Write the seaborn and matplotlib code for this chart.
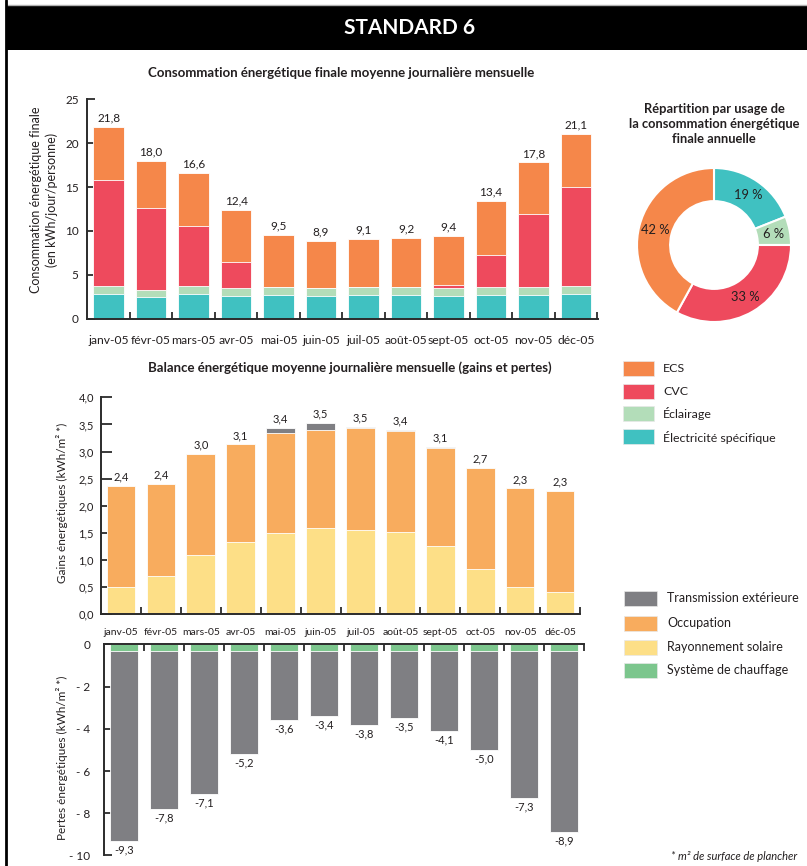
import numpy as np
import matplotlib
matplotlib.use("Agg")
import matplotlib.pyplot as plt
import seaborn as sns
from matplotlib.patches import Rectangle
from matplotlib.lines import Line2D

# ---------------- data ----------------
months = ["janv-05", "févr-05", "mars-05", "avr-05", "mai-05", "juin-05",
          "juil-05", "août-05", "sept-05", "oct-05", "nov-05", "déc-05"]

# Consommation (kWh/jour/personne)
elec_spec = [2.8, 2.5, 2.8, 2.6, 2.7, 2.6, 2.7, 2.7, 2.6, 2.7, 2.7, 2.8]
eclairage = [0.9, 0.8, 0.9, 0.9, 0.9, 0.9, 0.9, 0.9, 0.9, 0.9, 0.9, 0.9]
cvc = [12.1, 9.3, 6.9, 3.0, 0.0, 0.0, 0.0, 0.0, 0.3, 3.7, 8.3, 11.3]
ecs = [6.0, 5.4, 6.0, 5.9, 5.9, 5.4, 5.5, 5.6, 5.6, 6.1, 5.9, 6.1]

# Répartition annuelle (%)
usage_labels = ["Électricité spécifique", "Éclairage", "CVC", "ECS"]
usage_share = [19, 6, 33, 42]

# Gains (kWh/m²)
rayonnement = [0.51, 0.71, 1.09, 1.33, 1.49, 1.60, 1.56, 1.51, 1.25, 0.84, 0.51, 0.42]
occupation = [1.86, 1.69, 1.87, 1.80, 1.86, 1.80, 1.87, 1.87, 1.81, 1.85, 1.81, 1.86]
transmission_gain = [0, 0, 0, 0, 0.09, 0.12, 0.03, 0.02, 0.02, 0, 0, 0]

# Pertes (kWh/m²)
chauffage = [-0.3] * 12
transmission_loss = [-9.0, -7.5, -6.8, -4.9, -3.3, -3.1, -3.5, -3.2, -3.8, -4.7, -7.0, -8.6]

# ---------------- style ----------------
C_ECS = "#F5874A"
C_CVC = "#EE4A5D"
C_ECL = "#B3DDB9"
C_ELEC = "#40C1C1"
C_TRANS = "#7F7F83"
C_OCC = "#F8AC5E"
C_SOL = "#FDDF87"
C_CHAUF = "#7CC68D"
SPINE = "#2b2b2b"
TXT = "#231F20"

sns.set_theme(style="white")
plt.rcParams["font.family"] = ["Lato", "DejaVu Sans"]
plt.rcParams["text.color"] = TXT
plt.rcParams["axes.labelcolor"] = TXT
plt.rcParams["xtick.color"] = TXT
plt.rcParams["ytick.color"] = TXT

W, H = 807, 866
fig = plt.figure(figsize=(W / 100, H / 100), dpi=100)


def add_ax(l, t, r, b):
    return fig.add_axes([l / W, 1 - b / H, (r - l) / W, (b - t) / H])


def fmt(v):
    return f"{v:.1f}".replace(".", ",")


bar_kw = dict(saturation=1, width=0.72, edgecolor="white", linewidth=0.6)

# ---------------- header ----------------
fig.add_artist(Rectangle((6 / W, 1 - 50 / H), 1, 45 / H, transform=fig.transFigure,
                         facecolor="black", edgecolor="none"))
fig.add_artist(Line2D([6 / W, 1], [1 - 4.5 / H] * 2, transform=fig.transFigure,
                      color="#b0b0b0", lw=1))
fig.add_artist(Line2D([6.5 / W] * 2, [0, 1], transform=fig.transFigure,
                      color="black", lw=2))
fig.text(410 / W, 1 - 28 / H, "STANDARD 6", color="white", weight="bold",
         size=15, ha="center", va="center")

# ---------------- top chart ----------------
ax1 = add_ax(87, 99.3, 598, 318.7)
e = np.array(elec_spec)
l = e + np.array(eclairage)
c = l + np.array(cvc)
t = c + np.array(ecs)
for vals, col in [(t, C_ECS), (c, C_CVC), (l, C_ECL), (e, C_ELEC)]:
    sns.barplot(x=months, y=vals, color=col, ax=ax1, **bar_kw)
ax1.set_xlim(-0.51, 11.52)
ax1.set_ylim(0, 25)
ax1.set_yticks(range(0, 26, 5))
ax1.set_xticks(range(12))
ax1.set_xticklabels(months)
ax1.set_xticks(np.arange(0.5, 11.6, 1), minor=True)
ax1.tick_params(axis="x", which="major", length=0, pad=12, labelsize=8.7)
ax1.tick_params(axis="x", which="minor", length=5, direction="in", width=1.3, color=SPINE, bottom=True)
ax1.tick_params(axis="y", length=6, direction="in", width=1.3, color=SPINE, labelsize=8.5, pad=6, left=True)
for s in ["top", "right"]:
    ax1.spines[s].set_visible(False)
for s in ["left", "bottom"]:
    ax1.spines[s].set_color(SPINE)
    ax1.spines[s].set_linewidth(1.4)
for i, v in enumerate(t):
    ax1.annotate(fmt(v), (i, v), xytext=(0, 2.5), textcoords="offset points",
                 ha="center", va="bottom", fontsize=8.5)
ax1.set_xlabel("")
ax1.set_ylabel("Consommation énergétique finale\n(en kWh/jour/personne)", fontsize=9,
               multialignment="center", linespacing=1.3)
ax1.yaxis.set_label_coords((44 - 87) / 511, (318.7 - 200) / 219.4)
ax1.yaxis.label.set_va("center")
fig.text(341 / W, 1 - 73 / H, "Consommation énergétique finale moyenne journalière mensuelle",
         weight="bold", size=9.5, ha="center", va="center")

# ---------------- donut ----------------
axp = add_ax(714 - 82, 245 - 82, 714 + 82, 245 + 82)
wedges, texts, autotexts = axp.pie(
    usage_share, colors=[C_ELEC, C_ECL, C_CVC, C_ECS], startangle=90, counterclock=False,
    radius=1, autopct=lambda p: f"{p:.0f} %", pctdistance=0.79,
    wedgeprops=dict(width=0.43, edgecolor="white", linewidth=1.5),
    textprops=dict(fontsize=9.3, color=TXT))
axp.set_xlim(-82 / 77, 82 / 77)
axp.set_ylim(-82 / 77, 82 / 77)
axp.set_aspect("equal")
axp.axis("off")
fig.text(714 / W, 1 - 124 / H,
         "Répartition par usage de\nla consommation énergétique\nfinale annuelle",
         weight="bold", size=9.3, ha="center", va="center", linespacing=1.3)

# ---------------- legends ----------------
def legend_rows(items, x_box, x_txt, ys, size, bw=31, bh=15):
    for (lab, col), y in zip(items, ys):
        fig.add_artist(Rectangle((x_box / W, 1 - (y + bh / 2) / H), bw / W, bh / H,
                                 transform=fig.transFigure, facecolor=col,
                                 edgecolor="#e8e8e8", lw=0.5))
        fig.text(x_txt / W, 1 - y / H, lab, size=size, ha="left", va="center")


legend_rows([("ECS", C_ECS), ("CVC", C_CVC), ("Éclairage", C_ECL),
             ("Électricité spécifique", C_ELEC)],
            623, 663, [368, 391.5, 414, 437], 8.9)
legend_rows([("Transmission extérieure", C_TRANS), ("Occupation", C_OCC),
             ("Rayonnement solaire", C_SOL), ("Système de chauffage", C_CHAUF)],
            624, 667, [598, 623, 647, 670.5], 9, bw=33)

# ---------------- gains chart ----------------
ax2 = add_ax(101, 397.3, 580, 614.3)
so = np.array(rayonnement)
oc = so + np.array(occupation)
tg = oc + np.array(transmission_gain)
for vals, col in [(tg, C_TRANS), (oc, C_OCC), (so, C_SOL)]:
    sns.barplot(x=months, y=vals, color=col, ax=ax2, **bar_kw)
ax2.set_xlim(-0.5, 11.45)
ax2.set_ylim(0, 4)
ax2.set_yticks(np.arange(0, 4.01, 0.5))
ax2.set_yticklabels([fmt(v) for v in np.arange(0, 4.01, 0.5)])
ax2.set_xticks(range(12))
ax2.set_xticklabels(months)
ax2.set_xticks(np.arange(0.5, 11.6, 1), minor=True)
ax2.tick_params(axis="x", which="major", length=0, pad=10, labelsize=7.5)
ax2.tick_params(axis="x", which="minor", length=5, direction="in", width=1.3, color=SPINE, bottom=True)
ax2.tick_params(axis="y", length=8, direction="in", width=1.3, color=SPINE, labelsize=8, pad=5, left=True)
for s in ["top", "right"]:
    ax2.spines[s].set_visible(False)
for s in ["left", "bottom"]:
    ax2.spines[s].set_color(SPINE)
    ax2.spines[s].set_linewidth(1.4)
for i, v in enumerate(tg):
    ax2.annotate(fmt(v), (i, v), xytext=(0, 2.5), textcoords="offset points",
                 ha="center", va="bottom", fontsize=8)
ax2.set_xlabel("")
ax2.set_ylabel("Gains énergétiques (kWh/m² *)", fontsize=8.5)
ax2.yaxis.set_label_coords((62 - 101) / 479, (614.3 - 503) / 217)
ax2.yaxis.label.set_va("center")
fig.text(350 / W, 1 - 368 / H,
         "Balance énergétique moyenne journalière mensuelle (gains et pertes)",
         weight="bold", size=9.5, ha="center", va="center")

# ---------------- losses chart ----------------
ax3 = add_ax(104, 644.4, 584, 855.4)
ch = np.array(chauffage)
tl = ch + np.array(transmission_loss)
for vals, col in [(tl, C_TRANS), (ch, C_CHAUF)]:
    sns.barplot(x=months, y=vals, color=col, ax=ax3, **bar_kw)
ax3.set_xlim(-0.5, 11.45)
ax3.set_ylim(-10, 0)
ax3.set_yticks(range(-10, 1, 2))
ax3.set_yticklabels(["- 10", "- 8", "- 6", "- 4", "- 2", "0"])
ax3.xaxis.tick_top()
ax3.set_xticks(range(12))
ax3.set_xticklabels([])
ax3.set_xticks(np.arange(0.5, 11.6, 1), minor=True)
ax3.tick_params(axis="x", which="major", length=0)
ax3.tick_params(axis="x", which="minor", length=5, direction="in", width=1.3, color=SPINE,
                top=True, bottom=False)
ax3.tick_params(axis="y", length=6, direction="in", width=1.3, color=SPINE, labelsize=8.5, pad=10, left=True)
for s in ["bottom", "right"]:
    ax3.spines[s].set_visible(False)
for s in ["left", "top"]:
    ax3.spines[s].set_color(SPINE)
    ax3.spines[s].set_linewidth(1.4)
for i, v in enumerate(tl):
    ax3.annotate(fmt(v), (i, v), xytext=(0, -2.5), textcoords="offset points",
                 ha="center", va="top", fontsize=8)
ax3.set_xlabel("")
ax3.set_ylabel("Pertes énergétiques (kWh/m² *)", fontsize=8.5)
ax3.yaxis.set_label_coords((62 - 104) / 480, (855.4 - 758) / 211)
ax3.yaxis.label.set_va("center")

fig.text(797 / W, 1 - 857 / H, "* m² de surface de plancher", style="italic",
         size=8, ha="right", va="center")

fig.savefig("out.png", dpi=100)
